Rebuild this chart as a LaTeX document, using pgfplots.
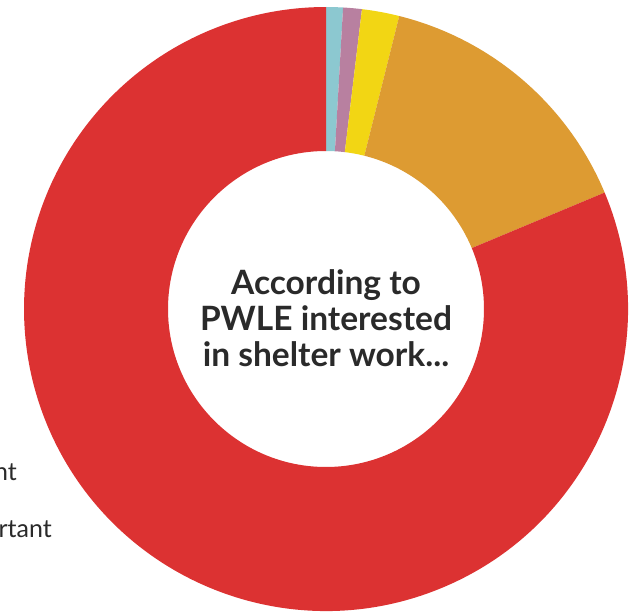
\documentclass[border=0pt]{standalone}
\usepackage{pgfplots}
\pgfplotsset{compat=1.18}
\usepackage{pgfplotstable}
\usepackage{fontspec}
\setmainfont{Lato}
\definecolor{cred}{HTML}{DC3232}
\definecolor{corange}{HTML}{DD9B32}
\definecolor{cyellow}{HTML}{F2D614}
\definecolor{cpurple}{HTML}{B880A0}
\definecolor{ccyan}{HTML}{8CC8D0}
\definecolor{textgray}{HTML}{2A2A2A}
\pgfplotstableread{
share color
0.9 ccyan
1.0 cpurple
2.0 cyellow
14.8 corange
81.3 cred
}\slices
\gdef\cum{0}
\foreach \i in {0,...,4}{%
  \pgfplotstablegetelem{\i}{share}\of\slices \let\v\pgfplotsretval
  \pgfplotstablegetelem{\i}{color}\of\slices \let\c\pgfplotsretval
  \pgfmathsetmacro\s{90-3.6*\cum}%
  \pgfmathsetmacro\e{\s-3.6*\v}%
  \expandafter\xdef\csname angS\i\endcsname{\s}%
  \expandafter\xdef\csname angE\i\endcsname{\e}%
  \expandafter\xdef\csname col\i\endcsname{\c}%
  \pgfmathsetmacro\nc{\cum+\v}%
  \xdef\cum{\nc}%
}
\begin{document}
\begin{tikzpicture}
\useasboundingbox (0,0) rectangle (639pt,614pt);
\begin{axis}[at={(326pt,305pt)}, anchor=center, scale only axis,
  width=604pt, height=604pt, xmin=-302, xmax=302, ymin=-302, ymax=302,
  hide axis, clip=false]
\pgfplotsinvokeforeach{0,...,4}{
  \fill[\csname col#1\endcsname] (axis cs:0,0) ++(\csname angS#1\endcsname:302pt)
    arc[start angle=\csname angS#1\endcsname, end angle=\csname angE#1\endcsname, radius=302pt]
    -- ++(\csname angE#1\endcsname:-144pt)
    arc[start angle=\csname angE#1\endcsname, end angle=\csname angS#1\endcsname, radius=158pt]
    -- cycle;
}
\end{axis}
\node[align=center, text=textgray, font=\bfseries\fontsize{33.5}{36}\selectfont] at (326pt,296pt)
  {According to\\PWLE interested\\in shelter work...};
\node[anchor=base east, inner sep=0pt, text=textgray, font=\fontsize{25}{28}\selectfont] at (17pt,134pt) {nt};
\node[anchor=base east, inner sep=0pt, text=textgray, font=\fontsize{25}{28}\selectfont] at (52pt,77pt) {rtant};
\end{tikzpicture}
\end{document}
